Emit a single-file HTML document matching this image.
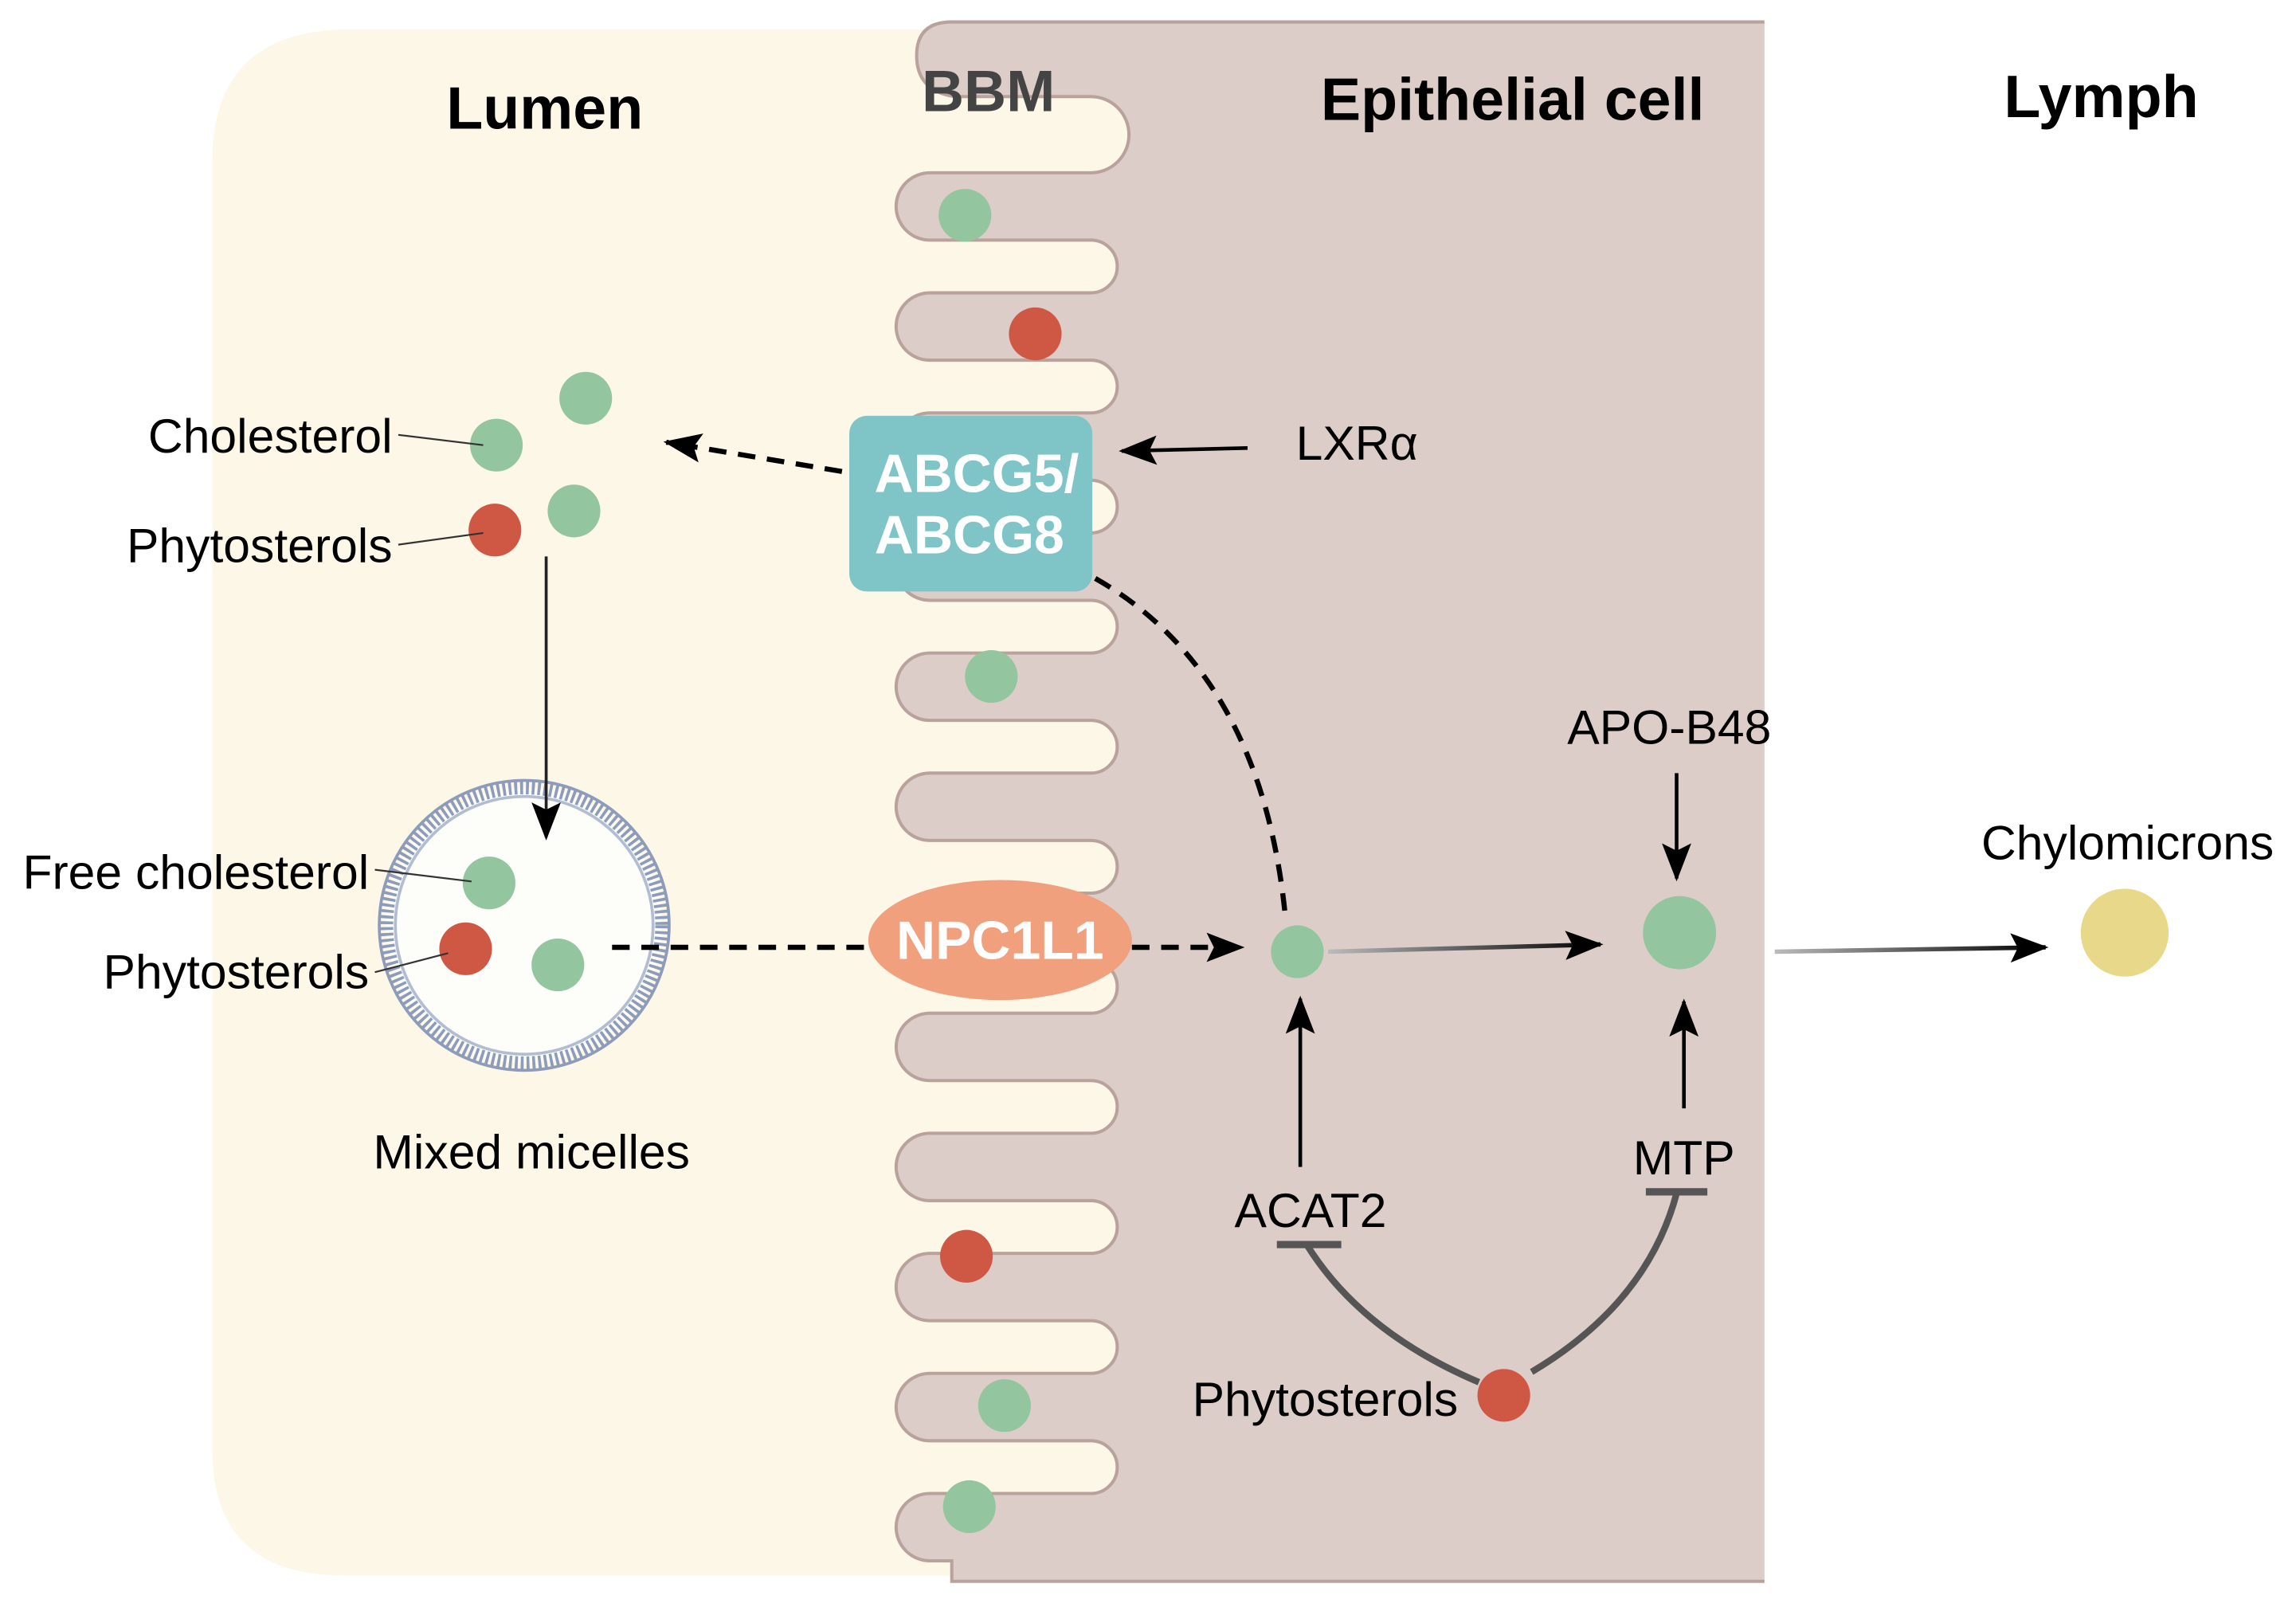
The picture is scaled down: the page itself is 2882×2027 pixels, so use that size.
<!DOCTYPE html>
<html><head><meta charset="utf-8">
<style>html,body{margin:0;padding:0;background:#fff;}svg{display:block}
text{font-family:"Liberation Sans",Arial,sans-serif;}</style></head>
<body>
<svg width="2882" height="2027" viewBox="0 0 1568 1103" preserveAspectRatio="none" xmlns="http://www.w3.org/2000/svg">
<defs>
<marker id="ahb" markerWidth="26" markerHeight="20" refX="24" refY="10" orient="auto" markerUnits="userSpaceOnUse">
<path d="M0,0 L26,10 L0,20 L5,10 Z" fill="#000"/></marker>
<linearGradient id="g1" x1="0" x2="1" y1="0" y2="0"><stop offset="0" stop-color="#bbb"/><stop offset="1" stop-color="#000"/></linearGradient>
</defs>
<path d="M240 20 L780 20 L780 1076 L235 1076 Q145 1076 145 990 L145 110 Q145 20 240 20 Z" fill="#fdf7e8"/>
<path d="M1205 15 L650 15 Q626 15 626 38 Q626 62 652 66 L745 66 A26 26 0 0 1 745 118 L635 118 A23 23 0 0 0 635 164 L745 164 A18 18 0 0 1 745 200 L635 200 A23 23 0 0 0 635 246 L745 246 A18 18 0 0 1 745 282 L635 282 A23 23 0 0 0 635 328 L745 328 A18 18 0 0 1 745 364 L635 364 A23 23 0 0 0 635 410 L745 410 A18 18 0 0 1 745 446 L635 446 A23 23 0 0 0 635 492 L745 492 A18 18 0 0 1 745 528 L635 528 A23 23 0 0 0 635 574 L745 574 A18 18 0 0 1 745 610 L635 610 A23 23 0 0 0 635 656 L745 656 A18 18 0 0 1 745 692 L635 692 A23 23 0 0 0 635 738 L745 738 A18 18 0 0 1 745 774 L635 774 A23 23 0 0 0 635 820 L745 820 A18 18 0 0 1 745 856 L635 856 A23 23 0 0 0 635 902 L745 902 A18 18 0 0 1 745 938 L635 938 A23 23 0 0 0 635 984 L745 984 A18 18 0 0 1 745 1020 L635 1020 A23 23 0 0 0 635 1066 L650 1066 L650 1080 L1205 1080" fill="#dccdc8" stroke="#b9a29c" stroke-width="2.2"/>
<text x="372" y="88" font-size="41" font-weight="bold" text-anchor="middle">Lumen</text>
<text x="675" y="76" font-size="40" font-weight="bold" fill="#444" text-anchor="middle">BBM</text>
<text x="1033" y="82" font-size="41" font-weight="bold" text-anchor="middle">Epithelial cell</text>
<text x="1435" y="80" font-size="41" font-weight="bold" text-anchor="middle">Lymph</text>
<g fill="#93c59f">
<circle cx="659" cy="147" r="18"/><circle cx="677" cy="462" r="18"/><circle cx="686" cy="960" r="18"/><circle cx="662" cy="1029" r="18"/>
<circle cx="400" cy="272" r="18"/><circle cx="339" cy="304" r="18"/><circle cx="392" cy="349" r="18"/>
</g>
<g fill="#cf5845"><circle cx="707" cy="228" r="18"/><circle cx="660" cy="858" r="18"/><circle cx="338" cy="362" r="18"/></g>
<text x="268" y="309" font-size="33" text-anchor="end">Cholesterol</text>
<text x="268" y="384" font-size="33" text-anchor="end">Phytosterols</text>
<line x1="272" y1="297" x2="330" y2="304" stroke="#333" stroke-width="1.2"/>
<line x1="272" y1="372" x2="330" y2="364" stroke="#333" stroke-width="1.2"/>
<circle cx="358" cy="632" r="94" fill="#fdfdfa" stroke="#8d9cba" stroke-width="9" stroke-dasharray="2 2"/>
<circle cx="358" cy="632" r="99" fill="none" stroke="#8d9cba" stroke-width="2"/>
<circle cx="358" cy="632" r="88" fill="none" stroke="#b2bdd2" stroke-width="2"/>
<line x1="373" y1="380" x2="373" y2="572" stroke="#222" stroke-width="2" marker-end="url(#ahb)"/>
<circle cx="334" cy="603" r="18" fill="#93c59f"/><circle cx="381" cy="659" r="18" fill="#93c59f"/><circle cx="318" cy="648" r="18" fill="#cf5845"/>
<text x="252" y="607" font-size="33" text-anchor="end">Free cholesterol</text>
<text x="252" y="675" font-size="33" text-anchor="end">Phytosterols</text>
<line x1="256" y1="594" x2="322" y2="602" stroke="#333" stroke-width="1.2"/>
<line x1="256" y1="664" x2="306" y2="651" stroke="#333" stroke-width="1.2"/>
<text x="363" y="798" font-size="33" text-anchor="middle">Mixed micelles</text>
<line x1="575" y1="322" x2="455" y2="302" stroke="#000" stroke-width="3.5" stroke-dasharray="12 8" marker-end="url(#ahb)"/>
<rect x="580" y="284" width="166" height="120" rx="12" fill="#7fc4c6"/>
<text x="667" y="336" font-size="37" font-weight="bold" fill="#fff" text-anchor="middle">ABCG5/</text>
<text x="662" y="378" font-size="37" font-weight="bold" fill="#fff" text-anchor="middle">ABCG8</text>
<text x="885" y="314" font-size="33">LXRα</text>
<line x1="852" y1="306" x2="766" y2="308" stroke="#000" stroke-width="2.5" marker-end="url(#ahb)"/>
<path d="M748 395 Q862 460 878 628" fill="none" stroke="#000" stroke-width="3.5" stroke-dasharray="12 8"/>
<line x1="418" y1="647" x2="600" y2="647" stroke="#000" stroke-width="3.5" stroke-dasharray="12 8"/>
<line x1="773" y1="647" x2="848" y2="647" stroke="#000" stroke-width="3.5" stroke-dasharray="12 8" marker-end="url(#ahb)"/>
<ellipse cx="683" cy="642" rx="90" ry="41" fill="#f0a07c"/>
<text x="683" y="655" font-size="37" font-weight="bold" fill="#fff" text-anchor="middle">NPC1L1</text>
<circle cx="886" cy="650" r="18" fill="#93c59f"/>
<line x1="907" y1="650" x2="1093" y2="645" stroke="url(#g1)" stroke-width="3" marker-end="url(#ahb)"/>
<circle cx="1147" cy="637" r="25" fill="#93c59f"/>
<text x="1140" y="508" font-size="33" text-anchor="middle">APO-B48</text>
<line x1="1145" y1="528" x2="1145" y2="600" stroke="#000" stroke-width="2.5" marker-end="url(#ahb)"/>
<line x1="888" y1="797" x2="888" y2="682" stroke="#000" stroke-width="2.5" marker-end="url(#ahb)"/>
<line x1="1150" y1="757" x2="1150" y2="684" stroke="#000" stroke-width="2.5" marker-end="url(#ahb)"/>
<text x="895" y="838" font-size="33" text-anchor="middle">ACAT2</text>
<text x="1150" y="802" font-size="33" text-anchor="middle">MTP</text>
<path d="M1010 944 Q930 910 893 851" fill="none" stroke="#555" stroke-width="4.5"/>
<line x1="872" y1="850" x2="916" y2="850" stroke="#555" stroke-width="5"/>
<path d="M1046 937 Q1125 890 1145 815" fill="none" stroke="#555" stroke-width="4.5"/>
<line x1="1124" y1="814" x2="1166" y2="814" stroke="#555" stroke-width="5"/>
<circle cx="1027" cy="953" r="18" fill="#cf5845"/>
<text x="905" y="967" font-size="33" text-anchor="middle">Phytosterols</text>
<line x1="1212" y1="650" x2="1397" y2="647" stroke="url(#g1)" stroke-width="3" marker-end="url(#ahb)"/>
<circle cx="1451" cy="637" r="30" fill="#e8d98a"/>
<text x="1453" y="587" font-size="33" text-anchor="middle">Chylomicrons</text>
</svg>
</body></html>
